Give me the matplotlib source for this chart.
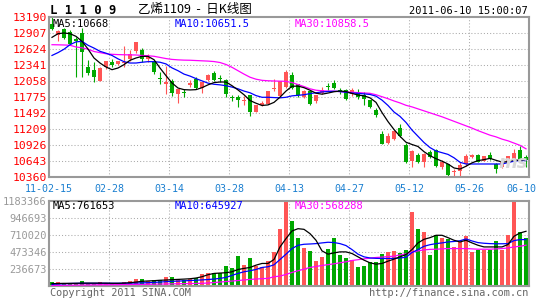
import matplotlib
matplotlib.use("Agg")
import matplotlib.pyplot as plt
import numpy as np

# daily K-line data, 2011-02-15 .. 2011-06-10 (80 trading days)
opens = [13070, 12875, 12980, 12930, 12800, 12900, 12300, 12260, 12060, 12300,
         12390, 12355, 12370, 12440, 12580, 12600, 12450, 12400, 12100, 12010,
         12060, 11830, 11860, 11990, 12095, 11935, 12070, 12205, 12105, 12080,
         11765, 11770, 11705, 11815, 11515, 11635, 11655, 11925, 11800, 11950,
         12165, 12000, 11775, 11880, 11705, 11845, 11970, 12030, 11900, 11905,
         11835, 11850, 11810, 11720, 11550, 11125, 10960, 11040, 11225, 10930,
         10650, 10750, 10620, 10808, 10845, 10530, 10590, 10450, 10472, 10590,
         10708, 10749, 10650, 10750, 10590, 10530, 10620, 10667, 10844, 10708]
closes = [12980, 12935, 12810, 12720, 12770, 12570, 12200, 12120, 12290, 12410,
          12345, 12405, 12395, 12540, 12740, 12450, 12490, 12210, 12090, 12040,
          11850, 11910, 11845, 12030, 11935, 12035, 12170, 12070, 12095, 11835,
          11755, 11715, 11720, 11505, 11625, 11665, 11875, 11940, 12050, 12220,
          11940, 11805, 11880, 11655, 11805, 11890, 11960, 11940, 11860, 11745,
          11905, 11775, 11745, 11600, 11460, 10948, 11093, 11182, 11080, 10620,
          10826, 10620, 10767, 10708, 10550, 10630, 10400, 10460, 10572, 10737,
          10749, 10631, 10726, 10680, 10500, 10630, 10737, 10784, 10678, 10668]
highs = [13190, 12960, 13000, 12960, 12830, 13000, 12430, 12400, 12300, 12420,
         12440, 12420, 12680, 12600, 12750, 12650, 12540, 12420, 12210, 12330,
         12090, 11920, 11915, 12080, 12120, 12040, 12175, 12230, 12165, 12100,
         11815, 11815, 11800, 11815, 11630, 11700, 11880, 12100, 12060, 12250,
         12210, 12010, 11905, 11880, 11810, 11950, 12030, 12080, 11930, 11910,
         11940, 11910, 11860, 11725, 11580, 11180, 11140, 11200, 11300, 10970,
         10830, 10790, 10780, 10830, 10860, 10665, 10590, 10500, 10620, 10765,
         10765, 10760, 10735, 10795, 10600, 10640, 10740, 10855, 10900, 10750]
lows = [12960, 12770, 12800, 12700, 12130, 12130, 12170, 12040, 12050, 12270,
        12300, 12340, 12300, 12410, 12560, 12400, 12400, 12180, 12010, 11830,
        11800, 11665, 11780, 11960, 11920, 11840, 12060, 12060, 12040, 11775,
        11700, 11595, 11625, 11445, 11505, 11610, 11650, 11875, 11795, 11930,
        11925, 11775, 11760, 11625, 11670, 11835, 11905, 11920, 11830, 11715,
        11800, 11745, 11630, 11580, 11420, 10935, 10945, 11010, 11060, 10605,
        10545, 10600, 10540, 10700, 10530, 10500, 10375, 10375, 10380, 10560,
        10690, 10620, 10640, 10665, 10430, 10520, 10610, 10650, 10665, 10545]

ma5 = [12830, 12895, 12907, 12895, 12848, 12760, 12624, 12465, 12376, 12306,
       12258, 12288, 12347, 12424, 12465, 12494, 12494, 12435, 12288, 12152,
       12023, 11934, 11905, 11900, 11905, 11940, 11990, 12030, 12040, 12040,
       11975, 11900, 11815, 11713, 11665, 11625, 11635, 11680, 11772, 11880,
       11965, 11968, 11940, 11895, 11842, 11825, 11845, 11868, 11880, 11872,
       11838, 11810, 11795, 11760, 11680, 11500, 11340, 11200, 11080, 10975,
       10935, 10900, 10808, 10737, 10684, 10640, 10590, 10520, 10500, 10550,
       10610, 10650, 10667, 10690, 10655, 10625, 10630, 10660, 10655, 10668]
ma10 = [12510, 12560, 12620, 12700, 12750, 12760, 12690, 12640, 12583, 12550,
        12510, 12450, 12400, 12376, 12376, 12390, 12400, 12400, 12390, 12360,
        12290, 12240, 12180, 12145, 12100, 12060, 12020, 12000, 11990, 11975,
        11950, 11920, 11880, 11850, 11800, 11770, 11770, 11765, 11760, 11770,
        11795, 11805, 11815, 11835, 11850, 11865, 11872, 11876, 11872, 11858,
        11845, 11840, 11830, 11820, 11790, 11720, 11625, 11510, 11432, 11325,
        11190, 11080, 10970, 10880, 10820, 10790, 10760, 10700, 10620, 10590,
        10590, 10590, 10590, 10590, 10590, 10590, 10615, 10640, 10650, 10651.5]
ma30 = [12700, 12698, 12695, 12690, 12660, 12645, 12620, 12580, 12560, 12540,
        12530, 12525, 12522, 12520, 12518, 12510, 12505, 12495, 12475, 12455,
        12440, 12432, 12427, 12425, 12420, 12415, 12410, 12402, 12385, 12350,
        12300, 12240, 12180, 12125, 12090, 12070, 12062, 12058, 12055, 12052,
        12030, 11995, 11960, 11920, 11895, 11885, 11880, 11878, 11870, 11865,
        11860, 11852, 11847, 11840, 11815, 11780, 11745, 11705, 11670, 11628,
        11600, 11565, 11530, 11495, 11460, 11425, 11385, 11345, 11305, 11265,
        11225, 11180, 11140, 11100, 11070, 11030, 11000, 10960, 10920, 10858.5]

volumes = [55000, 55000, 37000, 37000, 37000, 74000, 30000, 25000, 55000, 41000,
           32000, 37000, 60000, 74000, 97000, 97000, 65000, 83000, 83000, 124000,
           124000, 92000, 83000, 92000, 106000, 161000, 180000, 180000, 180000, 277000,
           249000, 415000, 290000, 387000, 277000, 258000, 346000, 470000, 789000, 1183366,
           905000, 662000, 523000, 481000, 346000, 397000, 513000, 662000, 430000, 396000,
           365000, 262000, 276000, 337000, 337000, 452000, 472000, 481000, 458000, 495000,
           1030000, 788000, 746000, 430000, 706000, 674000, 648000, 540000, 610000, 690000,
           476000, 504000, 507000, 507000, 623000, 507000, 706000, 1170000, 752000, 673000]
vol_ma5 = [32000, 35000, 37000, 37000, 38000, 40000, 40000, 40000, 40000, 40000,
           38000, 38000, 40000, 46000, 55000, 65000, 70000, 74000, 80000, 83000,
           88000, 92000, 96000, 101000, 111000, 129000, 157000, 175000, 180000, 185000,
           198000, 230000, 245000, 258000, 290000, 314000, 314000, 369000, 544000, 660000,
           766000, 798000, 789000, 729000, 637000, 489000, 443000, 461000, 475000, 475000,
           452000, 406000, 360000, 323000, 304000, 314000, 346000, 374000, 406000, 438000,
           507000, 600000, 650000, 673000, 706000, 706000, 673000, 637000, 613000, 637000,
           600000, 567000, 544000, 544000, 544000, 544000, 577000, 692000, 738000, 761653]
vol_ma10 = [23000, 28000, 32000, 35000, 37000, 38000, 38000, 38000, 38000, 38000,
            38000, 38000, 39000, 40000, 42000, 44000, 46000, 50000, 55000, 60000,
            65000, 68000, 72000, 76000, 80000, 85000, 90000, 97000, 106000, 120000,
            148000, 175000, 198000, 212000, 230000, 258000, 268000, 295000, 369000, 443000,
            521000, 567000, 581000, 585000, 590000, 600000, 609000, 605000, 590000, 563000,
            507000, 443000, 406000, 390000, 385000, 383000, 383000, 385000, 390000, 400000,
            466000, 507000, 553000, 575000, 590000, 600000, 613000, 620000, 630000, 655000,
            627000, 604000, 595000, 590000, 588000, 588000, 590000, 632000, 646000, 645927]
vol_ma30 = [9000, 10000, 11000, 12000, 13000, 14000, 15000, 16000, 17000, 17500,
            18000, 19000, 20000, 21000, 22000, 23000, 24000, 25000, 27000, 28000,
            30000, 31000, 33000, 34000, 36000, 37000, 42000, 48000, 55000, 62000,
            69000, 76000, 84000, 92000, 97000, 102000, 106000, 129000, 138000, 161000,
            189000, 212000, 235000, 258000, 272000, 286000, 297000, 309000, 323000, 337000,
            355000, 366000, 378000, 388000, 397000, 402000, 410000, 415000, 433000, 447000,
            470000, 489000, 503000, 510000, 512000, 517000, 521000, 521000, 521000, 521000,
            517000, 512000, 512000, 512000, 517000, 521000, 530000, 544000, 553000, 568288]

price_ticks = [10360, 10643, 10926, 11209, 11492, 11775, 12058, 12341, 12624, 12907, 13190]
vol_ticks = [236673, 473346, 710020, 946693, 1183366]
date_labels = ["11-02-15", "02-28", "03-14", "03-28", "04-13", "04-27", "05-12", "05-26", "06-10"]

RED = "#ff5555"
GREEN = "#00a800"
GRID = "#aaaaaa"
FRAME = "#999999"
MONO = "DejaVu Sans Mono"

W, H = 545, 300
fig = plt.figure(figsize=(W / 100, H / 100), dpi=100)
fig.patch.set_facecolor("white")


def rect(left, top, right, bottom):
    return [left / W, 1 - bottom / H, (right - left) / W, (bottom - top) / H]


def fx(px):
    return px / W


def fy(py):
    return 1 - py / H


ax = fig.add_axes(rect(49, 17, 529, 177))
vax = fig.add_axes(rect(49, 201, 529, 286))

n = len(closes)
x = np.arange(n)
up = [c >= o for o, c in zip(opens, closes)]
colors = [RED if u else GREEN for u in up]

for a in (ax, vax):
    a.set_xlim(-0.5, n - 0.5)
    for s in a.spines.values():
        s.set_color(FRAME)
        s.set_linewidth(1.5)
    a.tick_params(length=0)
    a.set_xticks([])
    for k in range(1, 8):
        a.axvline(k * 10 - 0.5, color=GRID, lw=0.75, ls=(0, (1, 2)), zorder=0)

# price panel
ax.set_ylim(price_ticks[0], price_ticks[-1])
for p in price_ticks[1:-1]:
    ax.axhline(p, color=GRID, lw=0.75, ls=(0, (1, 2)), zorder=0)
ax.set_yticks(price_ticks)
ax.set_yticklabels([str(p) for p in price_ticks], color="red", fontsize=8.2, family=MONO)
ax.tick_params(axis="y", pad=1.5)

ax.vlines(x, lows, highs, colors=colors, lw=0.8, zorder=2)
bottoms = [min(o, c) for o, c in zip(opens, closes)]
heights = [max(abs(c - o), 18) for o, c in zip(opens, closes)]
ax.bar(x, heights, bottom=bottoms, width=0.75, color=colors, linewidth=0, zorder=3)

ax.plot(x, ma30, color="#ff00ff", lw=0.9, zorder=4)
ax.plot(x, ma10, color="#0000ff", lw=0.9, zorder=4)
ax.plot(x, ma5, color="black", lw=0.9, zorder=4)

# volume panel
vax.set_ylim(0, vol_ticks[-1])
for v in vol_ticks[:-1]:
    vax.axhline(v, color=GRID, lw=0.75, ls=(0, (1, 2)), zorder=0)
vax.set_yticks(vol_ticks)
vax.set_yticklabels([str(v) for v in vol_ticks], color="#999999", fontsize=7.5, family=MONO)
vax.tick_params(axis="y", pad=1.5)
vax.bar(x, volumes, width=0.8, color=colors, linewidth=0, zorder=2)
vax.plot(x, vol_ma30, color="#ff00ff", lw=0.9, zorder=4)
vax.plot(x, vol_ma10, color="#0000ff", lw=0.9, zorder=4)
vax.plot(x, vol_ma5, color="black", lw=0.9, zorder=4)

# date labels between the panels
label_pos = [-0.5, 9.5, 19.5, 29.5, 39.5, 49.5, 59.5, 69.5, 78.3]
for pos, lab in zip(label_pos, date_labels):
    ax.text(pos, -0.074, lab, transform=ax.get_xaxis_transform(), ha="center", va="center",
            color="#1a7fd0", fontsize=7.2, family=MONO)

# header texts
fig.text(fx(50), fy(11), "L 1 1 0 9", fontsize=8.8, family=MONO, fontweight="bold", va="center")
fig.text(fx(138), fy(10), "乙烯1109  -  日K线图", fontsize=9,
         family=["Noto Sans CJK SC", "DejaVu Sans"], va="center")
fig.text(fx(528), fy(11), "2011-06-10 15:00:07", fontsize=7.5, family=MONO, ha="right", va="center")

fig.text(fx(53), fy(24), "MA5:10668", fontsize=7.5, family=MONO, color="black", va="center")
fig.text(fx(175), fy(24), "MA10:10651.5", fontsize=7.5, family=MONO, color="#0000ff", va="center")
fig.text(fx(295), fy(24), "MA30:10858.5", fontsize=7.5, family=MONO, color="#ff00ff", va="center")

fig.text(fx(53), fy(206), "MA5:761653", fontsize=7.5, family=MONO, color="black", va="center")
fig.text(fx(175), fy(206), "MA10:645927", fontsize=7.5, family=MONO, color="#0000ff", va="center")
fig.text(fx(295), fy(206), "MA30:568288", fontsize=7.5, family=MONO, color="#ff00ff", va="center")

# watermark
fig.text(fx(513), fy(163), "ms", fontsize=13, style="italic", fontweight="bold",
         color="#d8d8d8", ha="center", va="center", zorder=1)

# footer
fig.text(fx(50), fy(293), "Copyright 2011 SINA.COM", fontsize=7.4, family=MONO, color="#666666", va="center")
fig.text(fx(528), fy(293), "http://finance.sina.com.cn", fontsize=7.4, family=MONO, color="#666666",
         ha="right", va="center")

fig.savefig("out.png", dpi=100, facecolor="white")
